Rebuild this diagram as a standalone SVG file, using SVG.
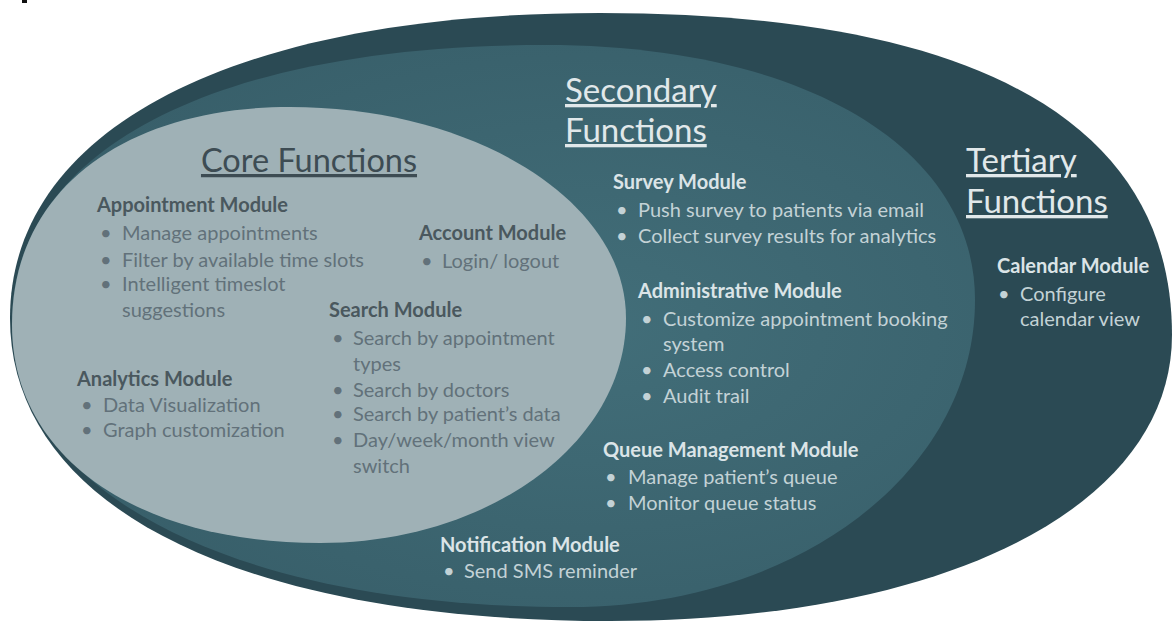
<svg xmlns="http://www.w3.org/2000/svg" width="1176" height="630" viewBox="0 0 1176 630">
<defs>
<radialGradient id="gMid" cx="0.6" cy="0.5" r="0.6">
<stop offset="0" stop-color="#426e79"/>
<stop offset="1" stop-color="#385f6a"/>
</radialGradient>
<style>
text{font-family:Lato,"Open Sans","Liberation Sans",sans-serif;}
.h{font-size:33px;text-decoration:underline;}
.hd{fill:#3d4c53;}
.hl{fill:#e1e8ea;}
.m{font-size:20px;font-weight:bold;}
.t{font-size:20px;}
.cm{fill:#4a585e;}
.ct{fill:#62717a;}
.sm{fill:#dbe4e7;}
.st{fill:#c3d2d6;}
</style>
</defs>
<rect x="0" y="0" width="1176" height="630" fill="#ffffff"/>
<rect x="22" y="0" width="5" height="3" fill="#111111"/>

<g id="tertiary">
<path d="M600,13 C980,13 1172,124 1172,335 C1172,505 950,621 610,621 C238,621 10,506 10,318 C10,129 234,13 600,13 Z" fill="#2b4a54"/>
<text class="h hl" x="966" y="172">Tertiary</text>
<text class="h hl" x="966" y="213">Functions</text>
<g id="calendar-module">
<text class="m sm" x="997" y="273">Calendar Module</text>
<text class="t st" x="998" y="301">•</text>
<text class="t st" x="1020" y="301">Configure</text>
<text class="t st" x="1020" y="326">calendar view</text>
</g>
</g>

<g id="secondary">
<path d="M545,45 C803,45 975,147 975,300 C975,472 797,607 570,607 C235,607 12,493 12,322 C12,150 215,45 545,45 Z" fill="url(#gMid)"/>
<text class="h hl" x="565" y="102">Secondary</text>
<text class="h hl" x="565" y="142">Functions</text>
<g id="survey-module">
<text class="m sm" x="613" y="189">Survey Module</text>
<text class="t st" x="616" y="217">•</text>
<text class="t st" x="638" y="217">Push survey to patients via email</text>
<text class="t st" x="616" y="243">•</text>
<text class="t st" x="638" y="243">Collect survey results for analytics</text>
</g>
<g id="administrative-module">
<text class="m sm" x="638" y="298">Administrative Module</text>
<text class="t st" x="641" y="326">•</text>
<text class="t st" x="663" y="326">Customize appointment booking</text>
<text class="t st" x="663" y="351">system</text>
<text class="t st" x="641" y="377">•</text>
<text class="t st" x="663" y="377">Access control</text>
<text class="t st" x="641" y="403">•</text>
<text class="t st" x="663" y="403">Audit trail</text>
</g>
<g id="queue-module">
<text class="m sm" x="603" y="457">Queue Management Module</text>
<text class="t st" x="605" y="484">•</text>
<text class="t st" x="628" y="484">Manage patient’s queue</text>
<text class="t st" x="605" y="510">•</text>
<text class="t st" x="628" y="510">Monitor queue status</text>
</g>
<g id="notification-module">
<text class="m sm" x="440" y="552">Notification Module</text>
<text class="t st" x="443" y="578">•</text>
<text class="t st" x="464" y="578">Send SMS reminder</text>
</g>
</g>

<g id="core">
<path d="M290,107 C475,107 626,201 626,318 C626,442 490,543 320,543 C135,543 12,456 12,325 C12,188 127,107 290,107 Z" fill="#9fb1b6"/>
<text class="h hd" x="309" y="172" text-anchor="middle" style="font-size:32.5px">Core Functions</text>
<g id="appointment-module">
<text class="m cm" x="97" y="212">Appointment Module</text>
<text class="t ct" x="100" y="240">•</text>
<text class="t ct" x="122" y="240">Manage appointments</text>
<text class="t ct" x="100" y="267">•</text>
<text class="t ct" x="122" y="267">Filter by available time slots</text>
<text class="t ct" x="100" y="291">•</text>
<text class="t ct" x="122" y="291">Intelligent timeslot</text>
<text class="t ct" x="122" y="317">suggestions</text>
</g>
<g id="account-module">
<text class="m cm" x="419" y="240">Account Module</text>
<text class="t ct" x="421" y="268">•</text>
<text class="t ct" x="442" y="268">Login/ logout</text>
</g>
<g id="search-module">
<text class="m cm" x="329" y="317">Search Module</text>
<text class="t ct" x="332" y="345">•</text>
<text class="t ct" x="353" y="345">Search by appointment</text>
<text class="t ct" x="353" y="371">types</text>
<text class="t ct" x="332" y="397">•</text>
<text class="t ct" x="353" y="397">Search by doctors</text>
<text class="t ct" x="332" y="421">•</text>
<text class="t ct" x="353" y="421">Search by patient’s data</text>
<text class="t ct" x="332" y="447">•</text>
<text class="t ct" x="353" y="447">Day/week/month view</text>
<text class="t ct" x="353" y="473">switch</text>
</g>
<g id="analytics-module">
<text class="m cm" x="77" y="386">Analytics Module</text>
<text class="t ct" x="81" y="412">•</text>
<text class="t ct" x="103" y="412">Data Visualization</text>
<text class="t ct" x="81" y="437">•</text>
<text class="t ct" x="103" y="437">Graph customization</text>
</g>
</g>
<g id="connectors"/>
</svg>
